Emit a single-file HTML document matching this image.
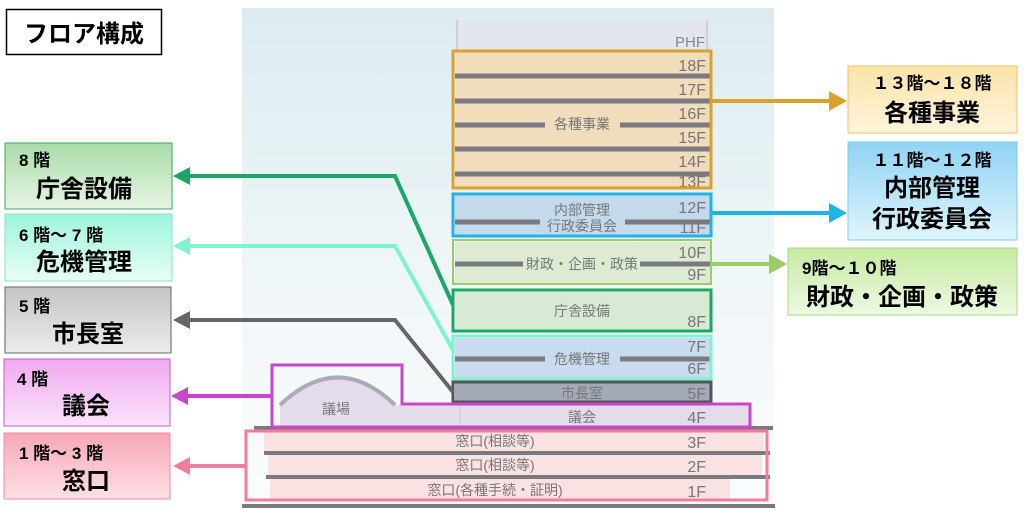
<!DOCTYPE html>
<html><head><meta charset="utf-8"><style>
html,body{margin:0;padding:0;background:#fff;}
svg text{font-family:"Liberation Sans","Noto Sans CJK JP",sans-serif;}
</style></head><body>
<svg width="1024" height="513" viewBox="0 0 1024 513" xmlns="http://www.w3.org/2000/svg">
<defs>
<linearGradient id="bg" x1="0" y1="0" x2="0" y2="1"><stop offset="0" stop-color="#dcecf0"/><stop offset="0.6" stop-color="#f1f7f9"/><stop offset="1" stop-color="#fafcfd"/></linearGradient>
<linearGradient id="g8" x1="0" y1="0" x2="0" y2="1"><stop offset="0" stop-color="#a9dcaa"/><stop offset="1" stop-color="#e6f5e3"/></linearGradient>
<linearGradient id="g67" x1="0" y1="0" x2="0" y2="1"><stop offset="0" stop-color="#9cf5dc"/><stop offset="1" stop-color="#e8fdf6"/></linearGradient>
<linearGradient id="g5" x1="0" y1="0" x2="0" y2="1"><stop offset="0" stop-color="#c4c4c4"/><stop offset="1" stop-color="#ececec"/></linearGradient>
<linearGradient id="g4" x1="0" y1="0" x2="0" y2="1"><stop offset="0" stop-color="#f0a8f0"/><stop offset="1" stop-color="#fae3fa"/></linearGradient>
<linearGradient id="g1" x1="0" y1="0" x2="0" y2="1"><stop offset="0" stop-color="#f7a7b6"/><stop offset="1" stop-color="#fde0e5"/></linearGradient>
<linearGradient id="g13" x1="0" y1="0" x2="0" y2="1"><stop offset="0" stop-color="#fbe4a8"/><stop offset="1" stop-color="#fdf4dc"/></linearGradient>
<linearGradient id="g11" x1="0" y1="0" x2="0" y2="1"><stop offset="0" stop-color="#8fd3f5"/><stop offset="1" stop-color="#e0f5fc"/></linearGradient>
<linearGradient id="g9" x1="0" y1="0" x2="0" y2="1"><stop offset="0" stop-color="#c6eba2"/><stop offset="1" stop-color="#edf9e2"/></linearGradient>
</defs>
<rect x="242" y="8" width="532" height="500" fill="url(#bg)"/>
<!-- tower -->
<rect x="455" y="20" width="254" height="32" fill="#e4e6ee"/>
<line x1="457" y1="20" x2="457" y2="52" stroke="#bbb"/><line x1="707" y1="20" x2="707" y2="52" stroke="#bbb"/>
<text x="705" y="47" font-size="15" fill="#888" text-anchor="end">PHF</text>
<rect x="455" y="52" width="255" height="135" fill="#f1dcbc"/>
<rect x="455" y="195" width="255" height="40" fill="#c3d9ec"/>
<rect x="455" y="242" width="255" height="41" fill="#dcebd2"/>
<rect x="455" y="292" width="255" height="38" fill="#d8ead3"/>
<rect x="455" y="338" width="255" height="40" fill="#c9dcef"/>
<rect x="455" y="383" width="255" height="18" fill="#a4a9b8"/>
<g stroke="#7a7a80" stroke-width="5">
<line x1="455" y1="76" x2="710" y2="76"/><line x1="455" y1="101" x2="710" y2="101"/>
<line x1="455" y1="125" x2="545" y2="125"/><line x1="620" y1="125" x2="710" y2="125"/>
<line x1="455" y1="149" x2="710" y2="149"/><line x1="455" y1="174" x2="710" y2="174"/>
<line x1="455" y1="222" x2="540" y2="222"/><line x1="625" y1="222" x2="710" y2="222"/>
<line x1="455" y1="264" x2="523" y2="264"/><line x1="640" y1="264" x2="710" y2="264"/>
<line x1="455" y1="359" x2="545" y2="359"/><line x1="620" y1="359" x2="710" y2="359"/>
</g>
<g font-size="14" fill="#777">
<text x="582" y="129" text-anchor="middle">各種事業</text>
<text x="582" y="215" text-anchor="middle">内部管理</text>
<text x="582" y="231" text-anchor="middle">行政委員会</text>
<text x="582" y="269" text-anchor="middle">財政・企画・政策</text>
<text x="582" y="316" text-anchor="middle">庁舎設備</text>
<text x="582" y="364" text-anchor="middle">危機管理</text>
<text x="582" y="398" text-anchor="middle">市長室</text>
</g>
<g font-size="16" fill="#777" text-anchor="end">
<text x="706" y="71">18F</text>
<text x="706" y="95">17F</text>
<text x="706" y="119">16F</text>
<text x="706" y="143">15F</text>
<text x="706" y="167">14F</text>
<text x="706" y="187">13F</text>
<text x="706" y="213">12F</text>
<text x="706" y="233">11F</text>
<text x="706" y="258">10F</text>
<text x="706" y="280">9F</text>
<text x="706" y="327">8F</text>
<text x="706" y="352">7F</text>
<text x="706" y="374">6F</text>
<text x="706" y="399">5F</text>
</g>
<!-- lower -->
<path d="M280 428 L280 404 Q338 350 395 405 L750 405 L750 428 Z" fill="#e4dcea"/>
<path d="M280 405 Q338 350 395 405" fill="none" stroke="#aab" stroke-width="4"/>
<line x1="460" y1="405" x2="460" y2="428" stroke="#ccc"/>
<text x="336" y="414" font-size="14" fill="#777" text-anchor="middle">議場</text>
<text x="582" y="422" font-size="14" fill="#777" text-anchor="middle">議会</text>
<text x="706" y="423" font-size="16" fill="#777" text-anchor="end">4F</text>
<rect x="264" y="431" width="500" height="21" fill="#fbe2e2"/>
<rect x="268" y="454" width="494" height="22" fill="#fbe2e2"/>
<rect x="270" y="478" width="460" height="22" fill="#fbe2e2"/>
<g stroke="#7a7a80" stroke-width="4">
<line x1="254" y1="428" x2="773" y2="428"/>
<line x1="264" y1="453" x2="770" y2="453"/>
<line x1="266" y1="477" x2="770" y2="477"/>
<line x1="242" y1="506" x2="775" y2="506"/>
</g>
<g font-size="14" fill="#777">
<text x="495" y="446" text-anchor="middle">窓口(相談等)</text>
<text x="495" y="470" text-anchor="middle">窓口(相談等)</text>
<text x="495" y="495" text-anchor="middle">窓口(各種手続・証明)</text>
</g>
<g font-size="16" fill="#777" text-anchor="end">
<text x="706" y="448">3F</text>
<text x="706" y="472">2F</text>
<text x="706" y="497">1F</text>
</g>
<g fill="none" stroke-width="3">
<rect x="453" y="51" width="258" height="137" stroke="#d9a22c"/>
<rect x="453" y="194" width="258" height="42" stroke="#1fb4e6"/>
<rect x="453" y="240" width="258" height="44" stroke="#9ccc66" stroke-width="2"/>
<rect x="453" y="290" width="258" height="41" stroke="#1aa865"/>
<rect x="453" y="336" width="258" height="43" stroke="#7ff2d2"/>
<rect x="453" y="382" width="258" height="20" stroke="#555"/>
<path d="M272 365 L402 365 L402 404 L750 404 L750 427 L272 427 Z" stroke="#cc44cc"/>
<rect x="246" y="431" width="521" height="69" stroke="#ee7f9c"/>
</g>
<g fill="none" stroke-width="4">
<polyline points="188,176 395,176 453,305" stroke="#1aa865"/>
<polyline points="188,246 395,246 453,350" stroke="#7ff2d2"/>
<polyline points="188,320 395,320 453,392" stroke="#666"/>
<line x1="188" y1="396" x2="272" y2="396" stroke="#cc44cc"/>
<line x1="188" y1="466" x2="246" y2="466" stroke="#ee7f9c"/>
<line x1="711" y1="101" x2="832" y2="101" stroke="#d9a22c"/>
<line x1="711" y1="213" x2="832" y2="213" stroke="#1fb4e6"/>
<line x1="711" y1="264" x2="772" y2="264" stroke="#9ccc66"/>
</g>
<polygon points="173,176 190,167 190,185" fill="#1aa865"/>
<polygon points="173,246 190,237 190,255" fill="#7ff2d2"/>
<polygon points="173,320 190,311 190,329" fill="#666"/>
<polygon points="171,396 188,387 188,405" fill="#cc44cc"/>
<polygon points="173,466 190,457 190,475" fill="#ee7f9c"/>
<polygon points="847,101 829,91 829,111" fill="#d9a22c"/>
<polygon points="847,213 829,203 829,223" fill="#1fb4e6"/>
<polygon points="787,264 769,254 769,274" fill="#9ccc66"/>
<rect x="6.5" y="9.5" width="155" height="45" fill="#fff" stroke="#000" stroke-width="1.5"/>
<text x="84" y="42" font-size="24" font-weight="bold" text-anchor="middle" fill="#000">フロア構成</text>
<g font-weight="bold">
<rect x="5" y="143" width="167" height="66" fill="url(#g8)" stroke="#3aa860"/>
<text x="19" y="166" font-size="17">8 階</text><text x="36" y="197" font-size="24">庁舎設備</text>
<rect x="5" y="214" width="167" height="67" fill="url(#g67)" stroke="#7fe8c8"/>
<text x="19" y="241" font-size="17">6 階～ 7 階</text><text x="36" y="270" font-size="24">危機管理</text>
<rect x="5" y="287" width="166" height="66" fill="url(#g5)" stroke="#666"/>
<text x="19" y="312" font-size="17">5 階</text><text x="52" y="342" font-size="24">市長室</text>
<rect x="4" y="359" width="166" height="67" fill="url(#g4)" stroke="#c060c0"/>
<text x="17" y="385" font-size="17">4 階</text><text x="62" y="414" font-size="24">議会</text>
<rect x="4" y="433" width="166" height="66" fill="url(#g1)" stroke="#ee8ca6"/>
<text x="19" y="459" font-size="17">1 階～ 3 階</text><text x="62" y="489" font-size="24">窓口</text>
<rect x="848" y="66" width="169" height="67" fill="url(#g13)" stroke="#f0c060"/>
<text x="932" y="89" font-size="17" text-anchor="middle">１３階～１８階</text>
<text x="932" y="121" font-size="24" text-anchor="middle">各種事業</text>
<rect x="848" y="142" width="169" height="98" fill="url(#g11)" stroke="#70d0e8"/>
<text x="932" y="166" font-size="17" text-anchor="middle">１１階～１２階</text>
<text x="932" y="196" font-size="24" text-anchor="middle">内部管理</text>
<text x="932" y="227" font-size="24" text-anchor="middle">行政委員会</text>
<rect x="788" y="248" width="229" height="67" fill="url(#g9)" stroke="#a8d880"/>
<text x="802" y="274" font-size="17">9階～１０階</text>
<text x="902" y="305" font-size="24" text-anchor="middle">財政・企画・政策</text>
</g>
</svg>
</body></html>
